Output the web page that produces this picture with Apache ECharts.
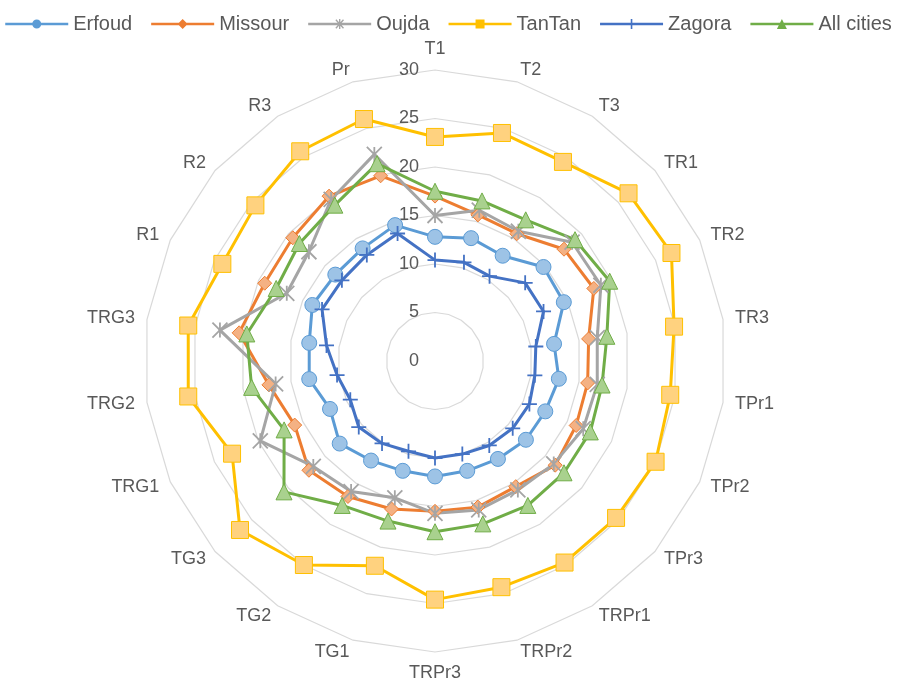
<!DOCTYPE html>
<html>
<head>
<meta charset="utf-8">
<script src="https://cdn.jsdelivr.net/npm/echarts@6/dist/echarts.min.js"></script>
<style>
  html, body { margin: 0; padding: 0; background: #ffffff; }
  #chart { width: 897px; height: 682px; }
</style>
</head>
<body>
<div id="chart"></div>
<script>
// Radar axes, listed clockwise from the top
const axes = ['T1', 'T2', 'T3', 'TR1', 'TR2', 'TR3', 'TPr1', 'TPr2', 'TPr3',
  'TRPr1', 'TRPr2', 'TRPr3', 'TG1', 'TG2', 'TG3', 'TRG1', 'TRG2', 'TRG3',
  'R1', 'R2', 'R3', 'Pr'];

// Scale
const scaleMin = 0;
const scaleMax = 30;
const scaleSteps = 6;

// City scores, one value per axis (same order as axes)
const erfoud    = [12.8, 13.2, 12.9, 14.8, 14.6, 12.4, 12.9, 12.5, 12.4, 12.0, 11.8, 11.9, 11.8, 12.2, 13.0, 11.9, 13.1, 13.1, 13.9, 13.6, 13.8, 14.6];
const missour   = [17.0, 15.7, 15.6, 17.6, 18.0, 16.0, 15.9, 16.0, 16.4, 15.4, 15.7, 15.5, 15.9, 16.6, 17.2, 15.9, 17.3, 20.4, 19.3, 19.4, 20.2, 19.9];
const oujda     = [15.0, 16.2, 15.9, 18.7, 18.8, 16.9, 16.9, 16.8, 16.2, 15.8, 16.0, 15.7, 14.7, 16.0, 16.6, 19.8, 16.6, 22.4, 16.8, 17.2, 19.8, 22.2];
const tantan    = [23.1, 24.5, 24.4, 26.4, 26.8, 24.9, 24.5, 25.0, 24.7, 24.7, 24.3, 24.6, 22.0, 25.0, 26.6, 23.0, 25.7, 25.7, 24.1, 24.5, 25.7, 26.0];
const zagora    = [10.4, 10.6, 10.4, 12.3, 12.3, 10.5, 10.4, 10.7, 10.6, 10.35, 10.0, 10.0, 9.7, 10.1, 10.4, 9.6, 10.2, 11.3, 12.8, 12.7, 13.0, 13.7];
const allCities = [17.5, 17.2, 17.3, 19.1, 19.8, 17.9, 17.4, 17.6, 17.6, 17.7, 17.5, 17.6, 17.2, 17.7, 20.6, 17.1, 19.1, 19.6, 18.0, 18.5, 19.1, 21.2];

// ECharts lays radar indicators out counter-clockwise; reorder so the
// axes run clockwise starting from T1 at the top.
const order = [0].concat(axes.map((_, i) => i).slice(1).reverse());
const cw = arr => order.map(i => arr[i]);

const FONT = 'Liberation Sans';
const TEXT = '#595959';

// Legend icons: a line with the series marker in the middle (63 x 10 box)
const LINE = 'M0,3.8H63V6.2H0Z';
const icons = {
  circle:   'path://' + LINE + 'M36,5A4.5,4.5 0 1 1 27,5A4.5,4.5 0 1 1 36,5Z',
  diamond:  'path://' + LINE + 'M31.5,0L36.5,5L31.5,10L26.5,5Z',
  star:     'path://' + LINE + 'M30.8,0H32.2V10H30.8Z M27.2,1.2L28.2,0.2L35.8,8.8L34.8,9.8Z M34.8,0.2L35.8,1.2L28.2,9.8L27.2,8.8Z',
  square:   'path://' + LINE + 'M27,0.5H36V9.5H27Z',
  plus:     'path://' + LINE + 'M30.7,0H32.3V10H30.7Z',
  triangle: 'path://' + LINE + 'M31.5,0L36.5,10H26.5Z'
};

const cities = [
  { name: 'Erfoud',     values: erfoud,    line: '#5B9BD5', fill: '#9DC3E6', symbol: 'circle',   size: 15, icon: icons.circle },
  { name: 'Missour',    values: missour,   line: '#ED7D31', fill: '#F4B183', symbol: 'diamond',  size: 14, icon: icons.diamond },
  { name: 'Oujda',      values: oujda,     line: '#A5A5A5', fill: 'none',    symbol: 'path://M0,0L10,10M10,0L0,10M5,0L5,10', size: 15, icon: icons.star },
  { name: 'TanTan',     values: tantan,    line: '#FFC000', fill: '#FFD27F', symbol: 'rect',     size: 17, icon: icons.square },
  { name: 'Zagora',     values: zagora,    line: '#4472C4', fill: 'none',    symbol: 'path://M0,5L10,5M5,0L5,10', size: 15, icon: icons.plus },
  { name: 'All cities', values: allCities, line: '#70AD47', fill: '#A9D18E', symbol: 'triangle', size: 16, icon: icons.triangle }
];

const indicator = cw(axes).map((name, i) => {
  const ind = { name: name, min: scaleMin, max: scaleMax };
  if (i === 0) {
    ind.axisLabel = { show: true };
  }
  return ind;
});

const chart = echarts.init(document.getElementById('chart'), null, { renderer: 'canvas' });

chart.setOption({
  backgroundColor: '#ffffff',
  animation: false,
  textStyle: { fontFamily: FONT },
  legend: {
    top: 14,
    left: 'center',
    padding: 0,
    itemWidth: 63,
    itemHeight: 10,
    itemGap: 19,
    textStyle: { color: TEXT, fontSize: 20, fontFamily: FONT },
    data: cities.map(c => ({
      name: c.name,
      icon: c.icon,
      itemStyle: { color: c.line, borderWidth: 0 }
    }))
  },
  radar: {
    center: [435, 361],
    radius: 291,
    startAngle: 90,
    shape: 'polygon',
    splitNumber: scaleSteps,
    nameGap: 12,
    axisName: { color: TEXT, fontSize: 18, fontFamily: FONT },
    axisLine: { show: false },
    axisTick: { show: false },
    axisLabel: { show: false, color: TEXT, fontSize: 18, fontFamily: FONT, margin: 16 },
    splitLine: { lineStyle: { color: '#D9D9D9', width: 1.2 } },
    splitArea: { show: false },
    indicator: indicator
  },
  series: cities.map(c => ({
    type: 'radar',
    name: c.name,
    symbol: c.symbol,
    symbolSize: c.size,
    lineStyle: { color: c.line, width: 3 },
    itemStyle: { color: c.fill, borderColor: c.line, borderWidth: (c.fill === 'none') ? 1.8 : 1 },
    data: [{ name: c.name, value: cw(c.values) }]
  }))
});
</script>
</body>
</html>
